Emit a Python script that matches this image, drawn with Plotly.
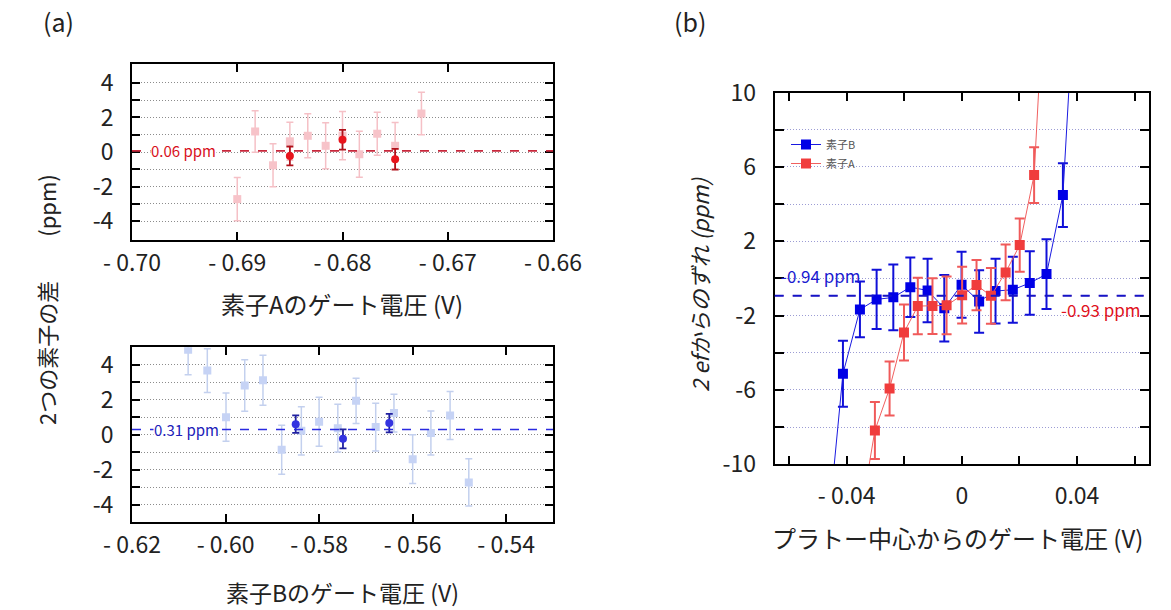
import plotly.graph_objects as go

# ---------------- data ----------------
# (a) top: element A
a_top_light_x = [-0.6900, -0.6883, -0.6866, -0.6850, -0.6833, -0.6816, -0.6800, -0.6784, -0.6767, -0.6750, -0.6725]
a_top_light_y = [-2.73, 1.19, -0.77, 0.62, 0.94, 0.36, 0.95, -0.13, 1.06, 0.36, 2.23]
a_top_light_err = [1.25, 1.2, 1.25, 1.1, 1.27, 1.33, 1.4, 1.33, 1.25, 1.35, 1.23]
a_top_dark_x = [-0.6850, -0.6800, -0.6750]
a_top_dark_y = [-0.23, 0.71, -0.42]
a_top_dark_err = [0.55, 0.57, 0.6]
a_top_mean = 0.06

# (a) bottom: element B
a_bot_light_x = [-0.6080, -0.6039, -0.5999, -0.5959, -0.5920, -0.5880, -0.5838, -0.5800,
                 -0.5760, -0.5721, -0.5679, -0.5640, -0.5600, -0.5561, -0.5520, -0.5480]
a_bot_light_y = [4.86, 3.67, 1.01, 2.82, 3.12, -0.86, 0.23, 0.74, 0.38, 1.94, 0.44, 1.24, -1.39, 0.10, 1.10, -2.72]
a_bot_light_err = [1.43, 1.25, 1.38, 1.47, 1.43, 1.4, 1.38, 1.4, 1.36, 1.29, 1.37, 1.08, 1.4, 1.26, 1.37, 1.35]
a_bot_dark_x = [-0.5850, -0.5749, -0.5650]
a_bot_dark_y = [0.61, -0.23, 0.67]
a_bot_dark_err = [0.5, 0.54, 0.53]
a_bot_mean = 0.31

# (b) deviation from 2ef vs gate voltage from plateau centre
b_B_x = [-0.0471, -0.0413, -0.0354, -0.0296, -0.0238, -0.0179, -0.0119, -0.0061, -0.0001,
         0.0060, 0.0117, 0.0177, 0.0236, 0.0294, 0.0351, 0.0410]
b_B_y = [-14.5, -5.13, -1.67, -1.13, -1.02, -0.47, -0.65, -1.61, -0.34, -1.24, -0.68, -0.61,
         -0.25, 0.23, 4.48, 20.6]
b_B_err = [1.8, 1.78, 1.5, 1.59, 1.77, 1.6, 1.71, 1.79, 1.78, 1.68, 1.74, 1.77, 1.71, 1.87, 1.72, 1.8]
b_A_x = [-0.0352, -0.0302, -0.0251, -0.0201, -0.0153, -0.0102, -0.0053, 0.0001, 0.0051,
         0.0101, 0.0152, 0.0201, 0.0251, 0.0302]
b_A_y = [-12.8, -8.18, -5.92, -2.91, -1.49, -1.49, -1.45, -0.90, -0.36, -0.94, 0.32, 1.79, 5.56, 20.2]
b_A_err = [1.5, 1.53, 1.45, 1.5, 1.52, 1.5, 1.55, 1.52, 1.35, 1.5, 1.5, 1.43, 1.5, 1.5]
b_B_mean = -0.94
b_A_mean = -0.93
b_names = ["素子B", "素子A"]

a_top_xticks = [-0.70, -0.69, -0.68, -0.67, -0.66]
a_bot_xticks = [-0.62, -0.60, -0.58, -0.56, -0.54]
b_xticks = [-0.06, -0.04, -0.02, 0.0, 0.02, 0.04, 0.06]
b_xlabels = [-0.04, 0.0, 0.04]

# ---------------- styling helpers ----------------
W, H = 1171, 610
FONT = "Noto Sans CJK JP, Noto Sans, sans-serif"
TXT = "#222222"


def px_x(p):
    return p / W


def px_y(p):
    return 1 - p / H


def vlabel(v):
    if abs(v) < 1e-12:
        return "0"
    s = f"{abs(v):.2f}"
    return ("- " + s) if v < 0 else s


fig = go.Figure()

# (a) top
fig.add_trace(go.Scatter(x=a_top_light_x, y=a_top_light_y, mode="markers", xaxis="x", yaxis="y",
                         marker=dict(symbol="square", size=8, color="#f7c3c9"),
                         error_y=dict(type="data", array=a_top_light_err, color="#f5c0c6", thickness=1.5, width=3.5),
                         showlegend=False))
fig.add_trace(go.Scatter(x=a_top_dark_x, y=a_top_dark_y, mode="markers", xaxis="x", yaxis="y",
                         marker=dict(symbol="circle", size=8, color="#e8141c"),
                         error_y=dict(type="data", array=a_top_dark_err, color="#b0101a", thickness=1.8, width=3.5),
                         showlegend=False))
# (a) bottom
fig.add_trace(go.Scatter(x=a_bot_light_x, y=a_bot_light_y, mode="markers", xaxis="x2", yaxis="y2",
                         marker=dict(symbol="square", size=8, color="#c6d3f5"),
                         error_y=dict(type="data", array=a_bot_light_err, color="#c3d0ee", thickness=1.5, width=3.5),
                         showlegend=False))
fig.add_trace(go.Scatter(x=a_bot_dark_x, y=a_bot_dark_y, mode="markers", xaxis="x2", yaxis="y2",
                         marker=dict(symbol="circle", size=8, color="#3434e0"),
                         error_y=dict(type="data", array=a_bot_dark_err, color="#2020a0", thickness=1.8, width=3.5),
                         showlegend=False))
# (b)
fig.add_trace(go.Scatter(x=b_B_x, y=b_B_y, mode="lines+markers", xaxis="x3", yaxis="y3", name=b_names[0],
                         line=dict(color="#1a1ae0", width=1),
                         marker=dict(symbol="square", size=10, color="#0000e6"),
                         error_y=dict(type="data", array=b_B_err, color="#1010d8", thickness=2, width=5)))
fig.add_trace(go.Scatter(x=b_A_x, y=b_A_y, mode="lines+markers", xaxis="x3", yaxis="y3", name=b_names[1],
                         line=dict(color="#f06060", width=1),
                         marker=dict(symbol="square", size=10, color="#f03c3c"),
                         error_y=dict(type="data", array=b_A_err, color="#f05a5a", thickness=2, width=5)))

axis_common = dict(showline=True, linecolor="black", linewidth=2, mirror="ticks", ticks="inside",
                   tickcolor="black", zeroline=False, automargin=False,
                   tickfont=dict(family=FONT, size=23, color=TXT))

xa_dom = [px_x(132), px_x(553)]
fig.update_layout(
    width=W, height=H, margin=dict(l=0, r=0, t=0, b=0, pad=0), autosize=False,
    paper_bgcolor="white", plot_bgcolor="white",
    font=dict(family=FONT, color=TXT),
    xaxis=dict(axis_common, domain=xa_dom, anchor="y", range=[-0.70, -0.66],
               tickvals=a_top_xticks, ticktext=[vlabel(v) for v in a_top_xticks],
               ticklen=8, tickwidth=2, showgrid=False, ticklabelstandoff=1),
    yaxis=dict(axis_common, domain=[px_y(240), px_y(64)], anchor="x", range=[-5.1, 5.1],
               tickvals=list(range(-4, 5)), ticktext=[(str(v) if v % 2 == 0 else "") for v in range(-4, 5)],
               ticklen=8, tickwidth=2, showgrid=True, gridcolor="#8c8c8c", griddash="1px,2px", gridwidth=1,
               ticklabelstandoff=12),
    xaxis2=dict(axis_common, domain=xa_dom, anchor="y2", range=[-0.62, -0.53],
                tickvals=a_bot_xticks, ticktext=[vlabel(v) for v in a_bot_xticks],
                ticklen=8, tickwidth=2, showgrid=False, ticklabelstandoff=1),
    yaxis2=dict(axis_common, domain=[px_y(522.3), px_y(347.3)], anchor="x2", range=[-5.0, 5.0],
                tickvals=list(range(-4, 5)), ticktext=[(str(v) if v % 2 == 0 else "") for v in range(-4, 5)],
                ticklen=8, tickwidth=2, showgrid=True, gridcolor="#8c8c8c", griddash="1px,2px", gridwidth=1,
                ticklabelstandoff=12),
    xaxis3=dict(axis_common, domain=[px_x(774.7), px_x(1149)], anchor="y3", range=[-0.065, 0.065],
                tickvals=b_xticks,
                ticktext=[(vlabel(v) if any(abs(v - l) < 1e-9 for l in b_xlabels) else "") for v in b_xticks],
                ticklen=8, tickwidth=2, showgrid=False, ticklabelstandoff=10),
    yaxis3=dict(axis_common, domain=[px_y(464.3), px_y(92.5)], anchor="x3", range=[-10, 10],
                tickvals=list(range(-10, 11, 2)),
                ticktext=[(str(v) if (v + 10) % 4 == 0 else "") for v in range(-10, 11, 2)],
                ticklen=9, tickwidth=2, showgrid=True, gridcolor="#9c9cd4", griddash="1px,2px", gridwidth=1,
                ticklabelstandoff=12),
    legend=dict(x=px_x(786), y=px_y(130), xanchor="left", yanchor="top", bgcolor="rgba(0,0,0,0)",
                font=dict(family=FONT, size=11, color="#555555"), tracegroupgap=0, itemwidth=30),
)

# mean lines
fig.add_shape(type="line", xref="x domain", yref="y", x0=0, x1=1, y0=a_top_mean, y1=a_top_mean,
              line=dict(color="#c8283c", width=1.8, dash="dash"), layer="above")
fig.add_shape(type="line", xref="x2 domain", yref="y2", x0=0, x1=1, y0=a_bot_mean, y1=a_bot_mean,
              line=dict(color="#2a2ae0", width=1.5, dash="dash"), layer="above")
fig.add_shape(type="line", xref="x3 domain", yref="y3", x0=0, x1=1, y0=b_A_mean, y1=b_A_mean,
              line=dict(color="#e02030", width=0.8, dash="dash"), layer="below")
fig.add_shape(type="line", xref="x3 domain", yref="y3", x0=0, x1=1, y0=b_B_mean, y1=b_B_mean,
              line=dict(color="#1414c8", width=2, dash="dash"), layer="above")

# mean labels
fig.add_annotation(xref="paper", yref="y", x=px_x(150), y=a_top_mean, xanchor="left", yanchor="middle",
                   text=f"{a_top_mean:.2f} ppm", showarrow=False, bgcolor="white", borderpad=0,
                   font=dict(family=FONT, size=15, color="#d8101c"))
fig.add_annotation(xref="paper", yref="y2", x=px_x(153), y=a_bot_mean, xanchor="left", yanchor="middle",
                   text=f"{a_bot_mean:.2f} ppm", showarrow=False, bgcolor="white", borderpad=0,
                   font=dict(family=FONT, size=15, color="#2020b8"))
fig.add_annotation(xref="paper", yref="paper", x=px_x(779), y=px_y(276), xanchor="left", yanchor="middle",
                   text=f"{b_B_mean:.2f} ppm", showarrow=False,
                   font=dict(family=FONT, size=17, color="#1a1ad0"))
fig.add_annotation(xref="paper", yref="paper", x=px_x(1143), y=px_y(309), xanchor="right", yanchor="middle",
                   text=f"{b_A_mean:.2f} ppm", showarrow=False,
                   font=dict(family=FONT, size=17, color="#e01020"))

# titles
def title(x, y, text, size=24, angle=0):
    fig.add_annotation(xref="paper", yref="paper", x=px_x(x), y=px_y(y), xanchor="center", yanchor="middle",
                       text=text, showarrow=False, textangle=angle,
                       font=dict(family=FONT, size=size, color=TXT))

title(58, 21, "(a)", 25)
title(690, 21, "(b)", 25)
title(342, 303, "素子Aのゲート電圧 (V)")
title(342, 592, "素子Bのゲート電圧 (V)", 23)
title(957, 537, "プラトー中心からのゲート電圧 (V)")
title(46, 300, "2つの素子の差　　(ppm)", 22, -90)
title(699, 285, "<i>2 efからのずれ (ppm)</i>", 22, -90)

fig.write_html("out.html", config={"displayModeBar": False},
               post_script="document.body.style.margin='0px';")
